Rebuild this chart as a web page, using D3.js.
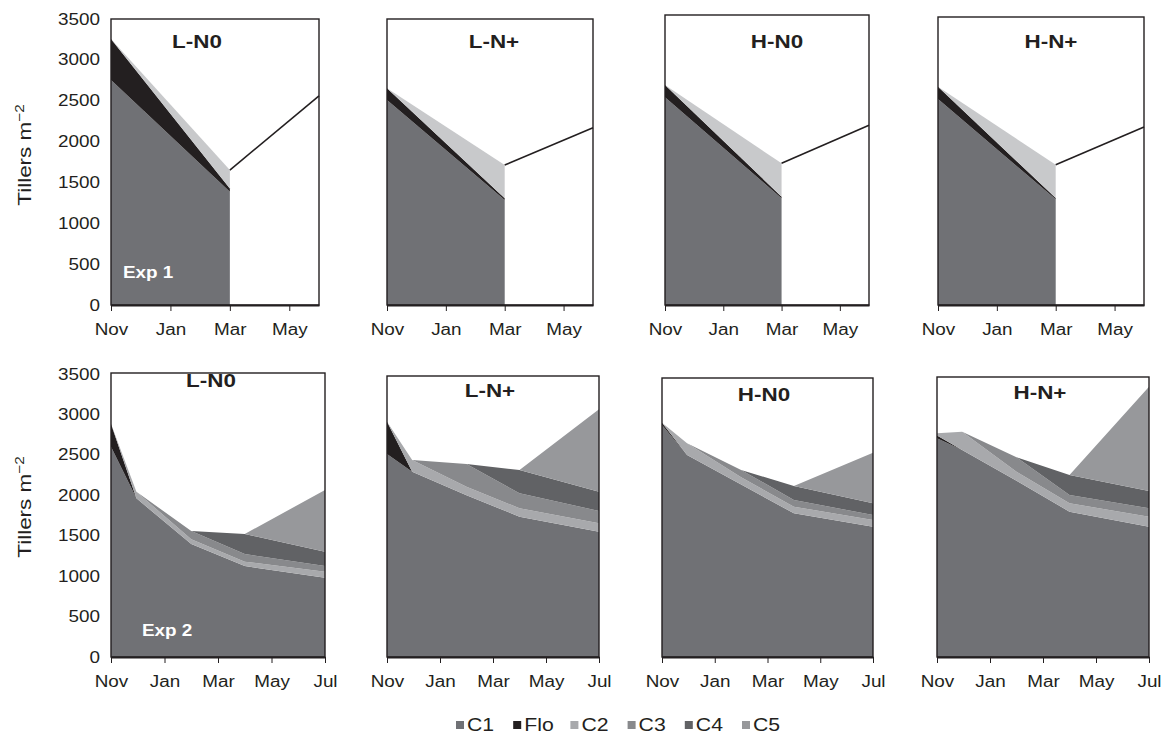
<!DOCTYPE html>
<html>
<head>
<meta charset="utf-8">
<script src="https://cdn.jsdelivr.net/npm/d3@7"></script>
<style>
  html, body { margin: 0; padding: 0; background: #fff; }
  svg text { font-family: "Liberation Sans", Arial, sans-serif; fill: #231f20; }
</style>
</head>
<body>
<script>
// Tiller populations by cohort (tillers m-2), two experiments x four treatments
const treatments = ["L-N0", "L-N+", "H-N0", "H-N+"];
const cohorts = ["C1", "Flo", "C2", "C3", "C4", "C5"];
const monthLabels = ["Nov", "Jan", "Mar", "May", "Jul"];
const monthTicks = [0, 2, 4, 6, 8];
const yTicks = [0, 500, 1000, 1500, 2000, 2500, 3000, 3500];

// Experiment 1: sampled in November and March (months after 1 Nov)
const exp1Months = [0, 4];
const exp1C1  = [[2754, 1387], [2509, 1285], [2542, 1306], [2521, 1293]];
const exp1Flo = [[500, 40], [143, 20], [150, 20], [150, 15]];
const exp1C2  = [[0, 224], [0, 408], [0, 408], [0, 409]];
// Final tiller count at the end of the season (month 7)
const exp1FinalMonth = 7;
const exp1Final = [2560, 2170, 2199, 2178];

// Experiment 2: five samplings
const exp2Months = [0, 0.95, 3, 5, 8];
const exp2C1  = [[2601, 1962, 1397, 1125, 981], [2510, 2292, 2001, 1735, 1550], [2869, 2498, 2132, 1777, 1611], [2705, 2560, 2179, 1797, 1611]];
const exp2Flo = [[280, 0, 0, 0, 0], [400, 0, 0, 0, 0], [29, 0, 0, 0, 0], [35, 0, 0, 0, 0]];
const exp2C2  = [[0, 82, 58, 54, 74], [0, 144, 105, 104, 103], [0, 145, 90, 82, 83], [26, 226, 113, 104, 124]];
const exp2C3  = [[0, 0, 103, 95, 70], [0, 0, 281, 185, 153], [0, 0, 91, 83, 62], [0, 0, 178, 104, 104]];
const exp2C4  = [[0, 0, 0, 247, 177], [0, 0, 0, 289, 238], [0, 0, 0, 173, 145], [0, 0, 0, 246, 214]];
const exp2C5  = [[0, 0, 0, 0, 763], [0, 0, 0, 0, 1019], [0, 0, 0, 0, 626], [0, 0, 0, 0, 1290]];

// Fill colours
const cohortColors = { C1: "#707175", Flo: "#231f20", C2: "#a8a9ac", C3: "#88898c", C4: "#616265", C5: "#97989b" };
const exp1Colors = Object.assign({}, cohortColors, { C2: "#c8c9cb" });

const INK = "#231f20";
const STRETCH = 1.18;

// Page layout for the two rows of panels
const rowsLayout = [
  {
    label: "Exp 1", zeroY: 305, fullY: 19, xMax: 7, tickCount: 4, tickLabelY: 335,
    frames: [[111, 319, 19], [387, 593, 19], [665, 869, 15], [938, 1144, 17]],
    titles: [[197, 48], [494, 48], [777, 48], [1051, 48]],
    expPos: [123, 278], yLabelY: 155
  },
  {
    label: "Exp 2", zeroY: 657, fullY: 374, xMax: 8, tickCount: 5, tickLabelY: 687,
    frames: [[111, 325, 373], [387, 599, 376], [662, 873, 378], [937, 1149, 377]],
    titles: [[211, 387], [490, 397], [764, 401], [1040, 399]],
    expPos: [142, 636], yLabelY: 507
  }
];

function tableFor(months, seriesByKey, t) {
  return months.map((m, i) => {
    const row = { month: m };
    cohorts.forEach(k => { row[k] = seriesByKey[k] ? seriesByKey[k][t][i] : 0; });
    return row;
  });
}

const svg = d3.select("body").append("svg")
  .attr("width", 1166).attr("height", 734);

rowsLayout.forEach((R, r) => {
  const isExp1 = r === 0;
  const y = d3.scaleLinear().domain([0, 3500]).range([R.zeroY, R.fullY]);
  const colors = isExp1 ? exp1Colors : cohortColors;

  treatments.forEach((tr, t) => {
    const [x0, x1, top] = R.frames[t];
    const x = d3.scaleLinear().domain([0, R.xMax]).range([x0, x1]);
    const g = svg.append("g");

    const data = isExp1
      ? tableFor(exp1Months, { C1: exp1C1, Flo: exp1Flo, C2: exp1C2 }, t)
      : tableFor(exp2Months, { C1: exp2C1, Flo: exp2Flo, C2: exp2C2, C3: exp2C3, C4: exp2C4, C5: exp2C5 }, t);

    const layers = d3.stack().keys(cohorts)(data);
    const area = d3.area()
      .x(d => x(d.data.month))
      .y0(d => y(d[0]))
      .y1(d => y(d[1]));

    g.selectAll("path.layer").data(layers).join("path")
      .attr("class", "layer")
      .attr("d", area)
      .attr("fill", d => colors[d.key]);

    if (isExp1) {
      const last = data[data.length - 1];
      const total = d3.sum(cohorts, k => last[k]);
      const pts = [[last.month, total], [exp1FinalMonth, exp1Final[t]]];
      g.append("path")
        .attr("d", d3.line().x(d => x(d[0])).y(d => y(d[1]))(pts))
        .attr("fill", "none").attr("stroke", INK).attr("stroke-width", 1.6);
    }

    // panel frame
    g.append("rect")
      .attr("x", x0).attr("y", top)
      .attr("width", x1 - x0).attr("height", R.zeroY - top)
      .attr("fill", "none").attr("stroke", INK).attr("stroke-width", 1.4);

    // x axis
    const xAxis = d3.axisBottom(x)
      .tickValues(monthTicks.slice(0, R.tickCount))
      .tickFormat((d, i) => monthLabels[i])
      .tickSize(6).tickSizeOuter(0).tickPadding(5);
    const ax = g.append("g").attr("transform", `translate(0,${R.zeroY})`).call(xAxis);
    ax.select(".domain").attr("stroke", INK).attr("stroke-width", 2.2);
    ax.selectAll(".tick line").attr("stroke", INK).attr("stroke-width", 1);
    ax.selectAll(".tick text")
      .attr("font-size", 16).attr("font-family", null).attr("fill", INK)
      .attr("y", null).attr("dy", null)
      .attr("transform", `translate(0,${R.tickLabelY - R.zeroY})`);

    // y axis labels, first panel only
    if (t === 0) {
      const yAxis = d3.axisLeft(y).tickValues(yTicks).tickFormat(d3.format("d"))
        .tickSize(0).tickPadding(11);
      const ay = g.append("g").attr("transform", `translate(${x0},0)`).call(yAxis);
      ay.select(".domain").remove();
      ay.selectAll(".tick text").attr("font-size", 16).attr("font-family", null).attr("fill", INK);

      const yl = svg.append("text")
        .attr("transform", `translate(31,${R.yLabelY}) rotate(-90)`)
        .attr("text-anchor", "middle")
        .attr("font-size", 19);
      yl.append("tspan").text("Tillers m");
      yl.append("tspan").text("\u22122").attr("font-size", 13).attr("dy", -7);

      svg.append("text")
        .attr("x", R.expPos[0]).attr("y", R.expPos[1])
        .attr("font-size", 16).attr("font-weight", "bold")
        .style("fill", "#ffffff")
        .text(R.label);
    }

    svg.append("text")
      .attr("x", R.titles[t][0]).attr("y", R.titles[t][1])
      .attr("text-anchor", "middle")
      .attr("font-size", 19).attr("font-weight", "bold")
      .text(tr);
  });
});

// Legend
const legend = svg.append("g").attr("transform", "translate(456,731)");
cohorts.forEach((k, i) => {
  const item = legend.append("g").attr("transform", `translate(${i * 57.2},0)`);
  item.append("rect").attr("x", 0).attr("y", -10).attr("width", 8).attr("height", 8)
    .attr("fill", cohortColors[k]);
  item.append("text").attr("x", 11).attr("y", 0).attr("font-size", 18).text(k);
});

// Widen all lettering to the typeface's proportions
svg.selectAll("text").each(function () {
  const w = this.getComputedTextLength();
  if (w > 0) {
    this.setAttribute("textLength", (w * STRETCH).toFixed(2));
    this.setAttribute("lengthAdjust", "spacingAndGlyphs");
  }
});
</script>
</body>
</html>
